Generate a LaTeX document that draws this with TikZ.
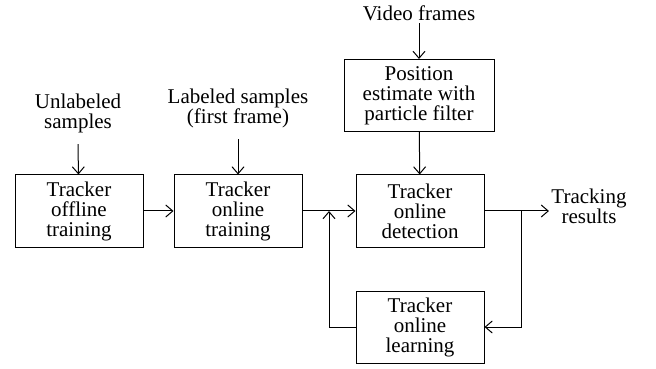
\documentclass[tikz,border=0pt]{standalone}
\usepackage{fontspec}
\setmainfont{Liberation Serif}
\usetikzlibrary{arrows.meta}

\begin{document}
\begin{tikzpicture}[x=0.5pt, y=-0.5pt, line width=0.5pt,
  every node/.style={align=center, inner sep=1pt, font=\fontsize{10.5}{10}\selectfont},
  box/.style={draw, minimum width=64pt, minimum height=36pt},
  arr/.style={-{Straight Barb[length=3.5pt, width=6pt]}}]
  \useasboundingbox (0,0) rectangle (656,368);

  \node (unl) at (78,113) {Unlabeled\\samples};
  \node (lab) at (238,108) {Labeled samples\\(first frame)};
  \node (vid) at (419,13) {Video frames};
  \node (res) at (589,206) {Tracking\\results};

  \node[box] (off) at (79,211) {Tracker\\offline\\training};
  \node[box] (ont) at (238,211) {Tracker\\online\\training};
  \node[box, minimum width=75pt] (pos) at (419,95.5) {Position\\estimate with\\particle filter};
  \node[box] (det) at (420,211) {Tracker\\online\\detection};
  \node[box] (lrn) at (420,327) {Tracker\\online\\learning};

  \coordinate (j1) at (329,211);
  \coordinate (j2) at (521,211);

  \draw[arr] (unl.south) ++(0,9) -- (off);
  \draw[arr] (lab.south) ++(0,9) -- (ont);
  \draw[arr] (vid) -- (pos);
  \draw[arr] (pos) -- (det);
  \draw[arr] (off) -- (ont);
  \draw[arr] (ont) -- (det);
  \draw[arr] (det) -- (res.west |- det.east);
  \draw[arr] (lrn) -| (j1);
  \draw[arr] (j2) |- (lrn);
\end{tikzpicture}
\end{document}
